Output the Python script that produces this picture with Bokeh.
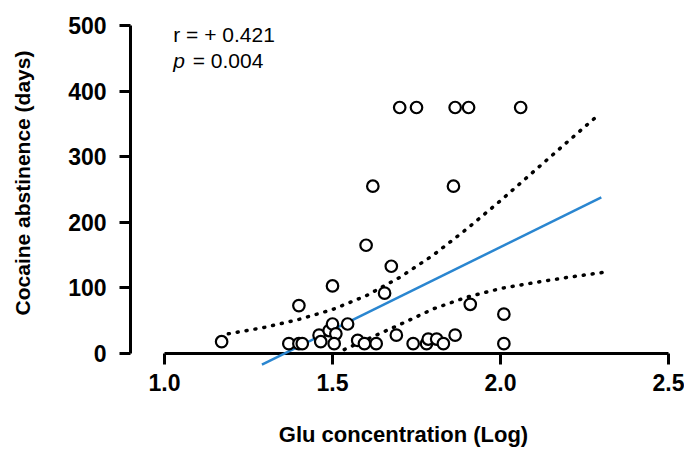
from bokeh.plotting import figure
from bokeh.models import Range1d, Label, FixedTicker, NumeralTickFormatter
from bokeh.embed import file_html
from bokeh.resources import INLINE

# --- data ---
glu_log = [1.17, 1.37, 1.40, 1.41, 1.40, 1.46, 1.465, 1.49, 1.50, 1.51, 1.505, 1.50,
           1.545, 1.575, 1.595, 1.60, 1.62, 1.63, 1.655, 1.675, 1.69, 1.70, 1.74, 1.75,
           1.78, 1.785, 1.81, 1.83, 1.86, 1.865, 1.865, 1.905, 1.91, 2.01, 2.01, 2.06]
abstinence_days = [18, 15, 15, 15, 73, 28, 18, 35, 45, 30, 15, 103,
                   45, 20, 15, 165, 255, 15, 92, 133, 28, 375, 15, 375,
                   15, 22, 22, 15, 255, 28, 375, 375, 75, 60, 15, 375]

fit_x = [1.29, 2.30]
fit_y = [-17, 238]

ci_upper_x = [1.19, 1.30, 1.40, 1.50, 1.60, 1.70, 1.80, 1.90, 2.00, 2.10, 2.20, 2.29]
ci_upper_y = [30, 40, 52, 67, 88, 116, 150, 190, 233, 278, 323, 363]
ci_lower_x = [1.535, 1.60, 1.70, 1.80, 1.90, 2.00, 2.10, 2.20, 2.31]
ci_lower_y = [6, 21, 44, 68, 86, 99, 108, 116, 124]

x_ticks = [1.0, 1.5, 2.0, 2.5]
y_ticks = [0, 100, 200, 300, 400, 500]

stat_r = "r = + 0.421"
stat_p_symbol = "p"
stat_p_value = "= 0.004"

FONT = "Liberation Sans"

p = figure(width=684, height=450, output_backend="svg", toolbar_location=None,
           x_range=Range1d(0.8988, 2.5238), y_range=Range1d(0, 519.8),
           min_border_left=130, min_border_right=8, min_border_top=12,
           min_border_bottom=97, background_fill_color="white",
           border_fill_color="white")
p.outline_line_color = None
p.grid.visible = False

for ax in (p.xaxis[0], p.yaxis[0]):
    ax.axis_line_width = 3
    ax.axis_line_color = "black"
    ax.major_tick_line_width = 3
    ax.major_tick_line_color = "black"
    ax.major_tick_out = 11
    ax.major_tick_in = 0
    ax.minor_tick_line_color = None
    ax.major_label_text_font = FONT
    ax.major_label_text_font_style = "bold"
    ax.major_label_text_font_size = "23px"
    ax.major_label_text_color = "black"
    ax.axis_label_text_font = FONT
    ax.axis_label_text_font_style = "bold"
    ax.axis_label_text_color = "black"

xa = p.xaxis[0]
xa.ticker = FixedTicker(ticks=x_ticks)
xa.formatter = NumeralTickFormatter(format="0.0")
xa.bounds = (x_ticks[0], x_ticks[-1])
xa.major_label_standoff = 9
xa.axis_label = "Glu concentration (Log)"
xa.axis_label_text_font_size = "22px"
xa.axis_label_standoff = 28

ya = p.yaxis[0]
ya.ticker = FixedTicker(ticks=y_ticks)
ya.bounds = (float(y_ticks[0]), float(y_ticks[-1]))
ya.major_label_standoff = 13
ya.axis_label = "Cocaine abstinence (days)"
ya.axis_label_text_font_size = "21px"
ya.axis_label_standoff = 31

r1 = p.line(ci_upper_x, ci_upper_y, line_color="black", line_width=3.5,
            line_dash="1 8", line_cap="round")
r2 = p.line(ci_lower_x, ci_lower_y, line_color="black", line_width=3.5,
            line_dash="1 8", line_cap="round")
r3 = p.line(fit_x, fit_y, line_color="#2a86d0", line_width=2.5)
r4 = p.scatter(glu_log, abstinence_days, marker="circle", size=11.5,
               line_color="black", line_width=2.2, fill_color="white")
for r in (r1, r2, r3, r4):
    r.level = "overlay"

p.add_layout(Label(x=1.026, y=487, text=stat_r, text_font=FONT,
                   text_font_size="21px", text_color="black",
                   text_baseline="alphabetic"))
p.add_layout(Label(x=1.026, y=446.5, text=stat_p_symbol, text_font=FONT,
                   text_font_style="italic", text_font_size="21px",
                   text_color="black", text_baseline="alphabetic"))
p.add_layout(Label(x=1.084, y=446.5, text=stat_p_value, text_font=FONT,
                   text_font_size="21px", text_color="black",
                   text_baseline="alphabetic"))

open("out.html", "w").write(file_html(p, INLINE))
